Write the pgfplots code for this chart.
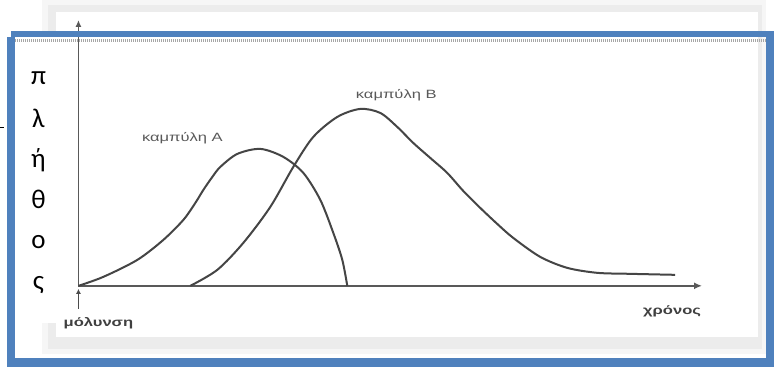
\documentclass[border=0pt]{standalone}
\usepackage{pgfplots}
\pgfplotsset{compat=1.18}
\usepackage{fontspec}
\setmainfont{Liberation Sans}
\newfontfamily\calibri{Carlito}
\usetikzlibrary{arrows.meta}
\definecolor{frameblue}{HTML}{4F81BD}
\definecolor{curvegray}{HTML}{454545}

\begin{document}
\begin{tikzpicture}
\begin{axis}[
  set layers,
  x=1pt, y=1pt,
  xmin=78, xmax=702, ymin=81, ymax=347,
  axis x line=bottom, axis y line=left,
  axis line style={line width=1.8pt, draw=black!65},
  x axis line style={-{Latex[length=8pt,width=7pt]}},
  y axis line style={-{Latex[length=7pt,width=6pt]}},
  ticks=none,
  clip=false,
]
  % background: scanned picture with its shadow
  \begin{pgfonlayer}{axis background}
    \fill[white] (axis cs:0,0) rectangle (axis cs:774,367);
    \fill[gray!7] (axis cs:42,13) rectangle (axis cs:766,367);
    \fill[gray!15] (axis cs:48,18) rectangle (axis cs:762,362);
    \fill[white] (axis cs:56,30) rectangle (axis cs:758,355);
    % text box of the y label
    \fill[white] (axis cs:15,44) rectangle (axis cs:58,330);
  \end{pgfonlayer}

  % curve A
  \addplot[smooth, line width=2pt, draw=curvegray] coordinates {
    (78,81) (103,90) (137,107) (163,127) (183,147) (195,164) (203,177) (212,190)
    (220,200) (237,213) (260,218) (283,210) (303,194) (320,167) (333,134) (342,107) (347,81)
  };
  % curve B
  \addplot[smooth, line width=2pt, draw=curvegray] coordinates {
    (190,81) (217,97) (243,124) (270,160) (293,200) (313,230) (337,250) (360,258)
    (380,254) (397,240) (413,224) (430,209) (447,194) (463,176) (480,159) (497,143)
    (513,129) (540,110) (567,99) (597,94) (630,93) (675,92)
  };

  % labels of the scan
  \node[text=black!65, font=\fontsize{12}{13}\selectfont, xscale=1.38] at (axis cs:182,229) {καμπύλη Α};
  \node[text=black!65, font=\fontsize{12}{13}\selectfont, xscale=1.38] at (axis cs:396,272) {καμπύλη Β};
  \node[text=black!75, font=\fontsize{12}{13}\selectfont\bfseries, xscale=1.38] at (axis cs:98,44) {μόλυνση};
  \node[text=black!75, font=\fontsize{12}{13}\selectfont\bfseries, xscale=1.38] at (axis cs:672,55) {χρόνος};
  \draw[line width=1.2pt, draw=black!70, -{Latex[length=5pt,width=5pt]}] (axis cs:78,58) -- (axis cs:78,78);

  % vertical y label
  \node[font=\calibri\fontsize{27}{28}\selectfont] at (axis cs:38,289) {π};
  \node[font=\calibri\fontsize{27}{28}\selectfont] at (axis cs:38,249) {λ};
  \node[font=\calibri\fontsize{27}{28}\selectfont] at (axis cs:38,207) {ή};
  \node[font=\calibri\fontsize{27}{28}\selectfont] at (axis cs:38,167) {θ};
  \node[font=\calibri\fontsize{27}{28}\selectfont] at (axis cs:38,125) {ο};
  \node[font=\calibri\fontsize{27}{28}\selectfont] at (axis cs:38,82) {ς};

  % blue frame on top
  \begin{pgfonlayer}{axis foreground}
    \draw[gray!70, line width=3pt, dash pattern=on 1pt off 1pt] (axis cs:15,326) -- (axis cs:766,326);
    \fill[frameblue] (axis cs:11,330) rectangle (axis cs:774,336);
    \fill[frameblue] (axis cs:7,5) rectangle (axis cs:15,330);
    \fill[frameblue] (axis cs:7,0) rectangle (axis cs:774,9);
    \fill[frameblue] (axis cs:766,0) rectangle (axis cs:774,336);
    \draw[black, line width=1pt] (axis cs:0,239) -- (axis cs:4,239);
  \end{pgfonlayer}
\end{axis}
\end{tikzpicture}
\end{document}
